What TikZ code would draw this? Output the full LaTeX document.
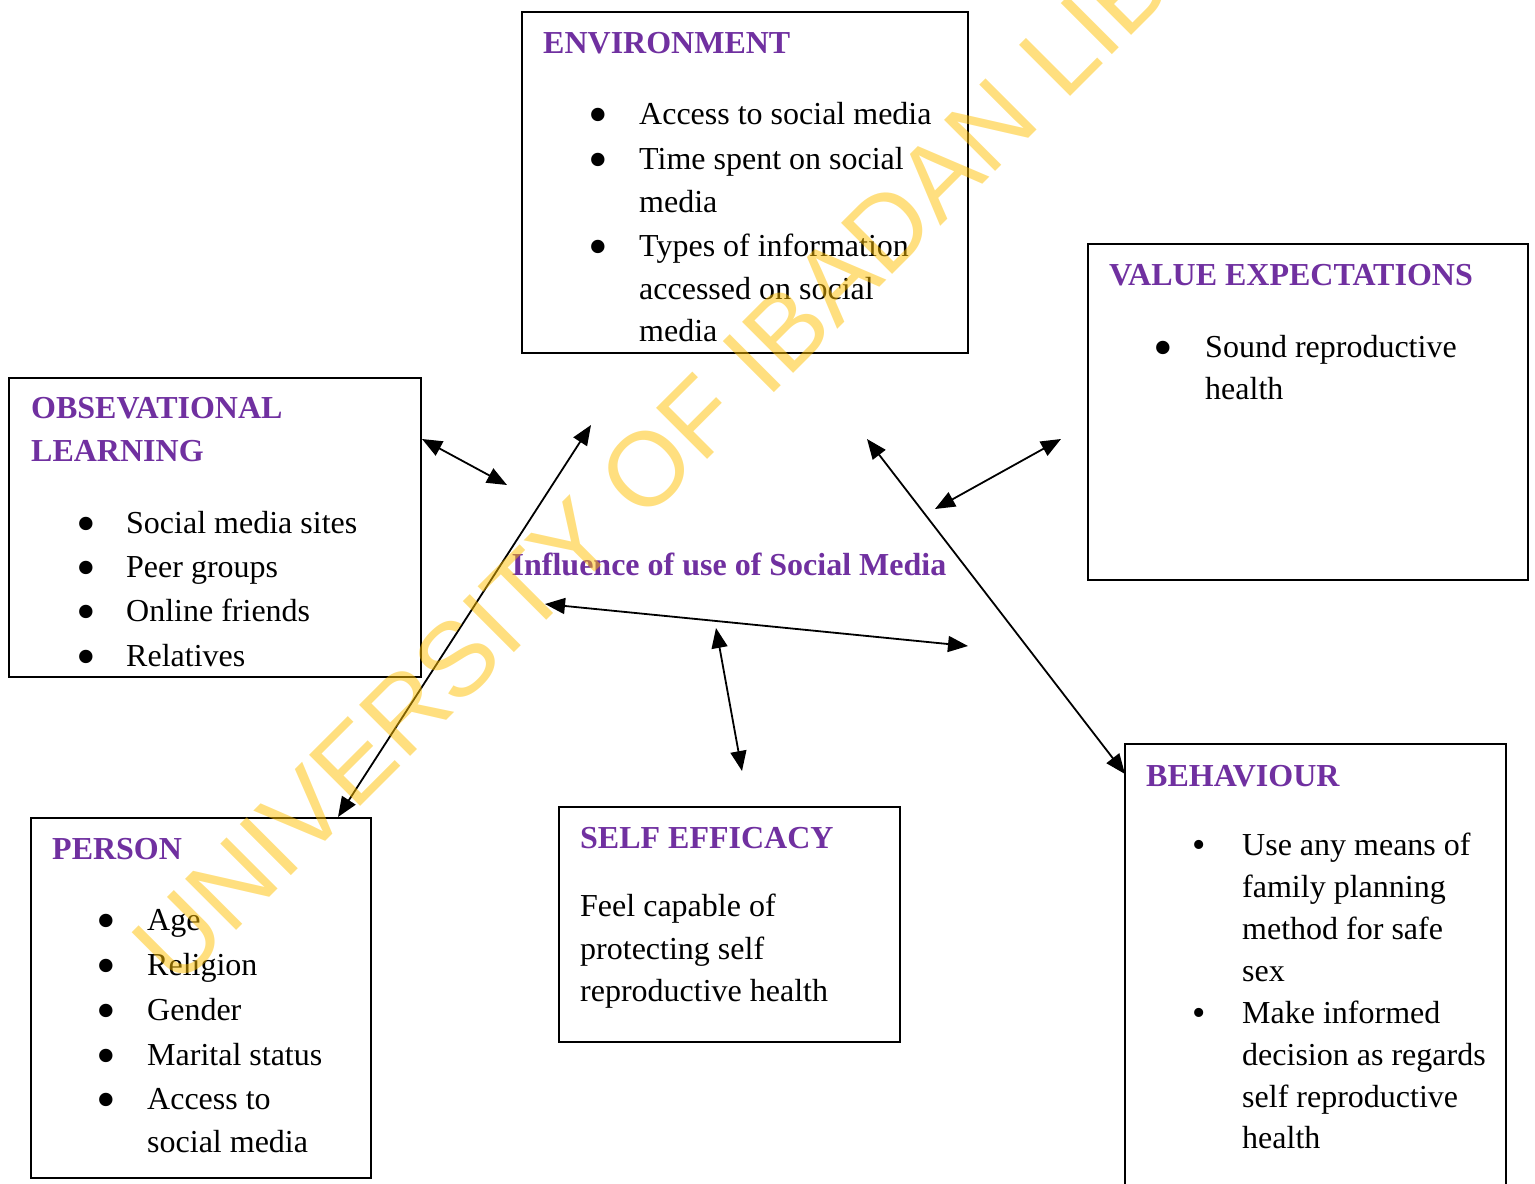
\documentclass[tikz,border=0pt]{standalone}
\usepackage{fontspec}
\setmainfont{Liberation Serif}
\newfontfamily\wmfont{Liberation Sans}
\usetikzlibrary{arrows.meta}
\definecolor{headpurple}{HTML}{7030A0}
\definecolor{wmyellow}{HTML}{FFC000}
\newcommand\tl[4]{\node[txt] (#1) at (#2,#3) {#4};}
\newcommand\bl[3]{\node[bul] (#1) at (#2,#3+9) {\textbullet};}
\newcommand\sbl[3]{\node[sbul] (#1) at (#2,#3+2) {\textbullet};}
\begin{document}
\begin{tikzpicture}[x=1pt,y=-1pt,
  box/.style={draw, line width=1.8pt, anchor=north west, inner sep=0pt, outer sep=0pt},
  txt/.style={anchor=base west, inner sep=0pt, font=\fontsize{32}{38}\selectfont},
  head/.style={anchor=base west, inner sep=0pt, font=\fontsize{32}{38}\selectfont\bfseries, text=headpurple},
  bul/.style={anchor=base, inner sep=0pt, font=\fontsize{56}{60}\selectfont},
  sbul/.style={anchor=base, inner sep=0pt, font=\fontsize{38}{42}\selectfont},
  link/.style={line width=1.8pt, {Triangle[length=20pt,width=16pt]}-{Triangle[length=20pt,width=16pt]}},
  wm/.style={anchor=base west, inner sep=0pt, rotate=45, text=wmyellow, text opacity=0.5, font=\wmfont\fontsize{105}{120}\selectfont}
]
\useasboundingbox (0,0) rectangle (1535,1184);
\clip (0,0) rectangle (1535,1184);

% boxes
\node[box, minimum width=446pt, minimum height=341pt] (env) at (522,12) {};
\node[box, minimum width=440pt, minimum height=336pt] (val) at (1088,244) {};
\node[box, minimum width=412pt, minimum height=299pt] (obs) at (9,378) {};
\node[box, minimum width=340pt, minimum height=360pt] (per) at (31,818) {};
\node[box, minimum width=341pt, minimum height=235pt] (self) at (559,807) {};
\node[box, minimum width=381pt, minimum height=456pt] (beh) at (1125,744) {};

% ENVIRONMENT
\node[head] (envh) at (543,53) {ENVIRONMENT};
\bl{eb1}{598}{124} \tl{et1}{639}{124}{Access to social media}
\bl{eb2}{598}{169} \tl{et2}{639}{169}{Time spent on social}
\tl{et3}{639}{212}{media}
\bl{eb3}{598}{256} \tl{et4}{639}{256}{Types of information}
\tl{et5}{639}{299}{accessed on social}
\tl{et6}{639}{341}{media}

% VALUE EXPECTATIONS
\node[head] (valh) at (1109,285) {VALUE EXPECTATIONS};
\bl{vb1}{1163}{357} \tl{vt1}{1205}{357}{Sound reproductive}
\tl{vt2}{1205}{399}{health}

% OBSEVATIONAL LEARNING
\node[head] (obsh1) at (31,418) {OBSEVATIONAL};
\node[head] (obsh2) at (31,461) {LEARNING};
\bl{ob1}{86}{533} \tl{ot1}{126}{533}{Social media sites}
\bl{ob2}{86}{577} \tl{ot2}{126}{577}{Peer groups}
\bl{ob3}{86}{621} \tl{ot3}{126}{621}{Online friends}
\bl{ob4}{86}{666} \tl{ot4}{126}{666}{Relatives}

% PERSON
\node[head] (perh) at (52,859) {PERSON};
\bl{pb1}{106}{930} \tl{pt1}{147}{930}{Age}
\bl{pb2}{106}{975} \tl{pt2}{147}{975}{Religion}
\bl{pb3}{106}{1020} \tl{pt3}{147}{1020}{Gender}
\bl{pb4}{106}{1065} \tl{pt4}{147}{1065}{Marital status}
\bl{pb5}{106}{1109} \tl{pt5}{147}{1109}{Access to}
\tl{pt6}{147}{1152}{social media}

% SELF EFFICACY
\node[head] (selfh) at (580,848) {SELF EFFICACY};
\tl{st1}{580}{916}{Feel capable of}
\tl{st2}{580}{959}{protecting self}
\tl{st3}{580}{1001}{reproductive health}

% BEHAVIOUR
\node[head] (behh) at (1146,786) {BEHAVIOUR};
\sbl{bb1}{1199}{855} \tl{bt1}{1242}{855}{Use any means of}
\tl{bt2}{1242}{897}{family planning}
\tl{bt3}{1242}{939}{method for safe}
\tl{bt4}{1242}{981}{sex}
\sbl{bb2}{1199}{1023} \tl{bt5}{1242}{1023}{Make informed}
\tl{bt6}{1242}{1065}{decision as regards}
\tl{bt7}{1242}{1107}{self reproductive}
\tl{bt8}{1242}{1148}{health}

% centre
\node[head, anchor=base] (infl) at (729,575) {Influence of use of Social Media};

% arrow ends
\coordinate (o1) at (422,439);   \coordinate (o2) at (507,485);
\coordinate (p1) at (338,817);   \coordinate (p2) at (591,425);
\coordinate (h1) at (545,604);   \coordinate (h2) at (968,646);
\coordinate (s1) at (716,628);   \coordinate (s2) at (742,771);
\coordinate (b1) at (867,439);   \coordinate (b2) at (1125,774);
\coordinate (v1) at (1061,439);  \coordinate (v2) at (935,509);

\draw[link] (o1) -- (o2);
\draw[link] (p1) -- (p2);
\draw[link] (h1) -- (h2);
\draw[link] (s1) -- (s2);
\draw[link] (b1) -- (b2);
\draw[link] (v1) -- (v2);

% watermark
\node[wm] (wmark) at (177,990) {UNIVERSITY OF IBADAN LIBRARY};
\end{tikzpicture}
\end{document}
